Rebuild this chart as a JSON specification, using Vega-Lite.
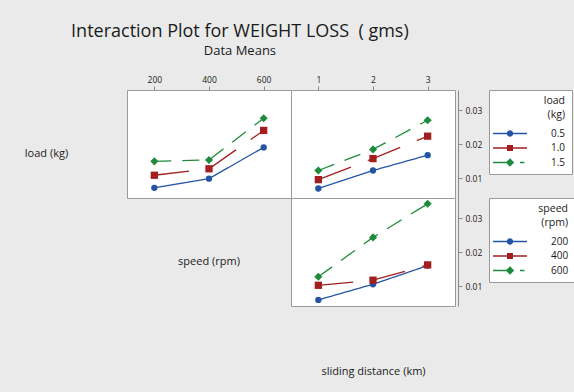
{
  "$schema": "https://vega.github.io/schema/vega-lite/v6.json",
  "background": "#eaeaea",
  "padding": {"left": 23, "top": 22, "right": 12, "bottom": 30},
  "autosize": {"type": "pad"},
  "title": {
    "text": "Interaction Plot for WEIGHT LOSS\u00a0 ( gms)",
    "subtitle": "Data Means",
    "font": "Open Sans", "fontSize": 18, "fontWeight": "normal", "color": "#1a1a1a",
    "subtitleFont": "Open Sans", "subtitleFontSize": 13, "subtitleColor": "#1a1a1a", "subtitlePadding": 4,
    "anchor": "middle", "offset": 17, "dx": -60
  },
  "datasets": {
    "speedLoad": [
      {"speed": 200, "load": "0.5", "wl": 0.0072},
      {"speed": 400, "load": "0.5", "wl": 0.0099},
      {"speed": 600, "load": "0.5", "wl": 0.0191},
      {"speed": 200, "load": "1.0", "wl": 0.0109},
      {"speed": 400, "load": "1.0", "wl": 0.0128},
      {"speed": 600, "load": "1.0", "wl": 0.0241},
      {"speed": 200, "load": "1.5", "wl": 0.0150},
      {"speed": 400, "load": "1.5", "wl": 0.0154},
      {"speed": 600, "load": "1.5", "wl": 0.0277}
    ],
    "distLoad": [
      {"distance": 1, "load": "0.5", "wl": 0.0070},
      {"distance": 2, "load": "0.5", "wl": 0.0123},
      {"distance": 3, "load": "0.5", "wl": 0.0168},
      {"distance": 1, "load": "1.0", "wl": 0.0096},
      {"distance": 2, "load": "1.0", "wl": 0.0158},
      {"distance": 3, "load": "1.0", "wl": 0.0224},
      {"distance": 1, "load": "1.5", "wl": 0.0123},
      {"distance": 2, "load": "1.5", "wl": 0.0185},
      {"distance": 3, "load": "1.5", "wl": 0.0271}
    ],
    "distSpeed": [
      {"distance": 1, "speed": "200", "wl": 0.0060},
      {"distance": 2, "speed": "200", "wl": 0.0106},
      {"distance": 3, "speed": "200", "wl": 0.0161},
      {"distance": 1, "speed": "400", "wl": 0.0103},
      {"distance": 2, "speed": "400", "wl": 0.0118},
      {"distance": 3, "speed": "400", "wl": 0.0163},
      {"distance": 1, "speed": "600", "wl": 0.0128},
      {"distance": 2, "speed": "600", "wl": 0.0244},
      {"distance": 3, "speed": "600", "wl": 0.0343}
    ],
    "diag": [{"t": "speed (rpm)"}]
  },
  "columns": 2,
  "spacing": 0,
  "bounds": "flush",
  "align": "all",
  "resolve": {
    "scale": {"color": "independent", "shape": "independent", "size": "independent", "strokeDash": "independent"},
    "legend": {"color": "independent", "shape": "independent", "size": "independent", "strokeDash": "independent"}
  },
  "concat": [
    {
      "width": 164, "height": 108,
      "data": {"name": "speedLoad"},
      "encoding": {
        "x": {"field": "speed", "type": "ordinal", "scale": {"padding": 0.5},
              "axis": {"orient": "top", "labelAngle": 0, "tickSize": 4, "domain": false, "title": null, "labelPadding": 2}},
        "y": {"field": "wl", "type": "quantitative", "scale": {"domain": [0.0042, 0.036], "nice": false, "zero": false},
              "axis": {"orient": "left", "labels": false, "ticks": false, "domain": false, "title": "load (kg)",
                       "titleAngle": 0, "titleAlign": "center", "titleBaseline": "middle", "titleX": -81, "titleY": 63}},
        "color": {"field": "load", "type": "nominal",
                  "scale": {"domain": ["0.5", "1.0", "1.5"], "range": ["#2455a4", "#a31f1f", "#1f8a3b"]}, "legend": null}
      },
      "layer": [
        {"mark": {"type": "line", "strokeWidth": 1.3},
         "encoding": {"strokeDash": {"field": "load", "type": "nominal",
           "scale": {"domain": ["1.5", "1.0", "0.5"], "range": [[17, 11], [35, 18], [1, 0]]}, "legend": null}}},
        {"mark": {"type": "point", "filled": true, "opacity": 1},
         "encoding": {
           "shape": {"field": "load", "type": "nominal", "scale": {"domain": ["1.5", "1.0", "0.5"], "range": ["diamond", "square", "circle"]}, "legend": null},
           "size": {"field": "load", "type": "nominal", "scale": {"domain": ["1.5", "1.0", "0.5"], "range": [66, 40, 32]}, "legend": null}
         }}
      ]
    },
    {
      "width": 164, "height": 108,
      "data": {"name": "distLoad"},
      "encoding": {
        "x": {"field": "distance", "type": "ordinal", "scale": {"padding": 0.5},
              "axis": {"orient": "top", "labelAngle": 0, "tickSize": 4, "domain": false, "title": null, "labelPadding": 2}},
        "y": {"field": "wl", "type": "quantitative", "scale": {"domain": [0.0042, 0.036], "nice": false, "zero": false},
              "axis": {"orient": "right", "values": [0.01, 0.02, 0.03], "format": ".2f", "offset": 3, "tickSize": 4, "labelPadding": 3, "title": null}}
      },
      "layer": [
        {"mark": {"type": "line", "strokeWidth": 1.3},
         "encoding": {
           "color": {"field": "load", "type": "nominal",
                     "scale": {"domain": ["0.5", "1.0", "1.5"], "range": ["#2455a4", "#a31f1f", "#1f8a3b"]}, "legend": null},
           "strokeDash": {"field": "load", "type": "nominal",
           "scale": {"domain": ["1.5", "1.0", "0.5"], "range": [[17, 11], [35, 18], [1, 0]]}, "legend": null}}},
        {"mark": {"type": "point", "filled": true, "opacity": 1},
         "encoding": {
           "color": {"field": "load", "type": "nominal",
                     "scale": {"domain": ["0.5", "1.0", "1.5"], "range": ["#2455a4", "#a31f1f", "#1f8a3b"]}, "legend": null},
           "shape": {"field": "load", "type": "nominal", "scale": {"domain": ["1.5", "1.0", "0.5"], "range": ["diamond", "square", "circle"]}, "legend": null},
           "size": {"field": "load", "type": "nominal", "scale": {"domain": ["1.5", "1.0", "0.5"], "range": [66, 40, 32]}, "legend": null}
         }},
        {"transform": [{"filter": "false"}],
         "mark": {"type": "point", "filled": true, "opacity": 1},
         "encoding": {
           "color": {"field": "load", "type": "nominal",
                     "scale": {"domain": ["0.5", "1.0", "1.5"], "range": ["#2455a4", "#a31f1f", "#1f8a3b"]},
                     "legend": {
                       "title": ["load\u00a0\u00a0\u00a0", "(kg)\u00a0\u00a0\u00a0"], "orient": "right", "offset": 7, "padding": 6,
                       "fillColor": "white", "strokeColor": "#9a9a9a",
                       "titleAnchor": "end", "titleAlign": "right", "titleFontSize": 10.5, "titleFontWeight": "normal",
                       "titleLineHeight": 14, "titlePadding": 8, "titleColor": "#1a1a1a",
                       "labelAlign": "left", "labelOffset": 36, "labelFontSize": 10, "labelColor": "#1a1a1a",
                       "labelExpr": "datum.label + '\u00a0\u00a0\u00a0'",
                       "symbolSize": 64, "symbolOffset": 10, "symbolStrokeWidth": 0, "rowPadding": 4.5}},
           "shape": {"field": "load", "type": "nominal",
                     "scale": {"domain": ["0.5", "1.0", "1.5"], "range": [
                       "M-4.25,-0.17H4.25V0.17H-4.25ZM0.8,0A0.8,0.8,0,1,1,-0.8,0A0.8,0.8,0,1,1,0.8,0Z",
                       "M-4.25,-0.17H4.25V0.17H-4.25ZM-0.75,-0.75H0.75V0.75H-0.75Z",
                       "M-4.25,-0.17H0V0.17H-4.25ZM0,-1.05L1.05,0L0,1.05L-1.05,0ZM2.5,-0.17H3.6V0.17H2.5Z"]},
                     "legend": {
                       "title": ["load\u00a0\u00a0\u00a0", "(kg)\u00a0\u00a0\u00a0"], "orient": "right", "offset": 7, "padding": 6,
                       "fillColor": "white", "strokeColor": "#9a9a9a",
                       "titleAnchor": "end", "titleAlign": "right", "titleFontSize": 10.5, "titleFontWeight": "normal",
                       "titleLineHeight": 14, "titlePadding": 8, "titleColor": "#1a1a1a",
                       "labelAlign": "left", "labelOffset": 36, "labelFontSize": 10, "labelColor": "#1a1a1a",
                       "labelExpr": "datum.label + '\u00a0\u00a0\u00a0'",
                       "symbolSize": 64, "symbolOffset": 10, "symbolStrokeWidth": 0, "rowPadding": 4.5}}
         }}
      ],
      "resolve": {
        "scale": {"color": "independent", "shape": "independent", "size": "independent", "strokeDash": "independent"},
        "legend": {"color": "independent", "shape": "independent", "size": "independent", "strokeDash": "independent"}
      }
    },
    {
      "width": 164, "height": 108,
      "view": {"fill": null, "stroke": null},
      "data": {"name": "diag"},
      "mark": {"type": "text", "fontSize": 11, "dy": 10, "color": "#1a1a1a"},
      "encoding": {"text": {"field": "t", "type": "nominal"}}
    },
    {
      "width": 164, "height": 108,
      "data": {"name": "distSpeed"},
      "encoding": {
        "x": {"field": "distance", "type": "ordinal", "scale": {"padding": 0.5},
              "axis": {"orient": "bottom", "labels": false, "ticks": false, "domain": false, "title": "sliding distance (km)",
                       "titleBaseline": "middle", "titleY": 65}},
        "y": {"field": "wl", "type": "quantitative", "scale": {"domain": [0.0042, 0.036], "nice": false, "zero": false},
              "axis": {"orient": "right", "values": [0.01, 0.02, 0.03], "format": ".2f", "offset": 3, "tickSize": 4, "labelPadding": 3, "title": null}}
      },
      "layer": [
        {"mark": {"type": "line", "strokeWidth": 1.3},
         "encoding": {
           "color": {"field": "speed", "type": "nominal",
                     "scale": {"domain": ["200", "400", "600"], "range": ["#2455a4", "#a31f1f", "#1f8a3b"]}, "legend": null},
           "strokeDash": {"field": "speed", "type": "nominal",
           "scale": {"domain": ["600", "400", "200"], "range": [[17, 11], [35, 18], [1, 0]]}, "legend": null}}},
        {"mark": {"type": "point", "filled": true, "opacity": 1},
         "encoding": {
           "color": {"field": "speed", "type": "nominal",
                     "scale": {"domain": ["200", "400", "600"], "range": ["#2455a4", "#a31f1f", "#1f8a3b"]}, "legend": null},
           "shape": {"field": "speed", "type": "nominal", "scale": {"domain": ["600", "400", "200"], "range": ["diamond", "square", "circle"]}, "legend": null},
           "size": {"field": "speed", "type": "nominal", "scale": {"domain": ["600", "400", "200"], "range": [66, 40, 32]}, "legend": null}
         }},
        {"transform": [{"filter": "false"}],
         "mark": {"type": "point", "filled": true, "opacity": 1},
         "encoding": {
           "color": {"field": "speed", "type": "nominal",
                     "scale": {"domain": ["200", "400", "600"], "range": ["#2455a4", "#a31f1f", "#1f8a3b"]},
                     "legend": {
                       "title": ["speed\u00a0\u00a0\u00a0", "(rpm)\u00a0\u00a0\u00a0"], "orient": "right", "offset": 7, "padding": 6,
                       "fillColor": "white", "strokeColor": "#9a9a9a",
                       "titleAnchor": "end", "titleAlign": "right", "titleFontSize": 10.5, "titleFontWeight": "normal",
                       "titleLineHeight": 14, "titlePadding": 8, "titleColor": "#1a1a1a",
                       "labelAlign": "left", "labelOffset": 36, "labelFontSize": 10, "labelColor": "#1a1a1a",
                       "labelExpr": "datum.label + '\u00a0\u00a0\u00a0'",
                       "symbolSize": 64, "symbolOffset": 10, "symbolStrokeWidth": 0, "rowPadding": 4.5}},
           "shape": {"field": "speed", "type": "nominal",
                     "scale": {"domain": ["200", "400", "600"], "range": [
                       "M-4.25,-0.17H4.25V0.17H-4.25ZM0.8,0A0.8,0.8,0,1,1,-0.8,0A0.8,0.8,0,1,1,0.8,0Z",
                       "M-4.25,-0.17H4.25V0.17H-4.25ZM-0.75,-0.75H0.75V0.75H-0.75Z",
                       "M-4.25,-0.17H0V0.17H-4.25ZM0,-1.05L1.05,0L0,1.05L-1.05,0ZM2.5,-0.17H3.6V0.17H2.5Z"]},
                     "legend": {
                       "title": ["speed\u00a0\u00a0\u00a0", "(rpm)\u00a0\u00a0\u00a0"], "orient": "right", "offset": 7, "padding": 6,
                       "fillColor": "white", "strokeColor": "#9a9a9a",
                       "titleAnchor": "end", "titleAlign": "right", "titleFontSize": 10.5, "titleFontWeight": "normal",
                       "titleLineHeight": 14, "titlePadding": 8, "titleColor": "#1a1a1a",
                       "labelAlign": "left", "labelOffset": 36, "labelFontSize": 10, "labelColor": "#1a1a1a",
                       "labelExpr": "datum.label + '\u00a0\u00a0\u00a0'",
                       "symbolSize": 64, "symbolOffset": 10, "symbolStrokeWidth": 0, "rowPadding": 4.5}}
         }}
      ],
      "resolve": {
        "scale": {"color": "independent", "shape": "independent", "size": "independent", "strokeDash": "independent"},
        "legend": {"color": "independent", "shape": "independent", "size": "independent", "strokeDash": "independent"}
      }
    }
  ],
  "config": {
    "font": "Open Sans",
    "view": {"fill": "white", "stroke": "#9a9a9a", "strokeWidth": 1},
    "axis": {"labelFont": "Open Sans", "labelColor": "#1a1a1a", "labelFontSize": 8.5, "tickColor": "#8a8a8a", "domainColor": "#8a8a8a",
             "grid": false, "titleFont": "Open Sans", "titleFontWeight": "normal", "titleFontSize": 11, "titleColor": "#1a1a1a"},
    "legend": {"labelFont": "Open Sans", "titleFont": "Open Sans"}
  }
}
